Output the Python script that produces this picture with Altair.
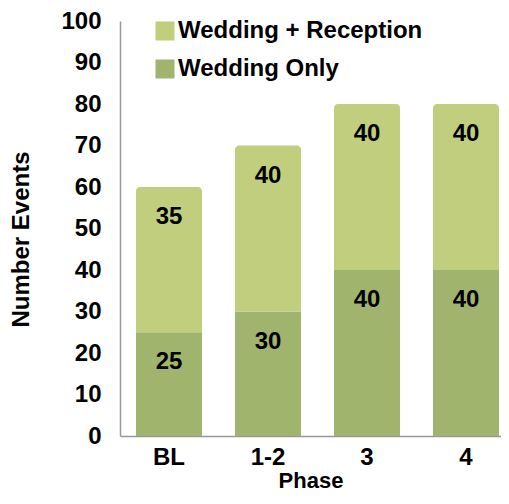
import altair as alt
import pandas as pd

phases = ["BL", "1-2", "3", "4"]
wedding_only = [25, 30, 40, 40]
wedding_reception = [35, 40, 40, 40]
series_names = ["Wedding + Reception", "Wedding Only"]
colors = ["#c1ce7e", "#a1b46d"]
y_ticks = [0, 10, 20, 30, 40, 50, 60, 70, 80, 90, 100]

rows = []
for p, wo, wr in zip(phases, wedding_only, wedding_reception):
    rows.append({"phase": p, "series": "Wedding Only", "value": wo, "order": 0})
    rows.append({"phase": p, "series": "Wedding + Reception", "value": wr, "order": 1})
df = pd.DataFrame(rows)

FONT = "Liberation Sans"
FS = 24

base = alt.Chart(df).transform_stack(
    stack="value", groupby=["phase"], as_=["y0", "y1"], sort=[alt.SortField("order")]
)

x = alt.X(
    "phase:N",
    sort=phases,
    scale=alt.Scale(paddingInner=0.3333, paddingOuter=0.0909, align=0.889),
    axis=alt.Axis(
        title="Phase", labelAngle=0, ticks=False, grid=False,
        domainColor="#999999", domainWidth=1.5,
        labelFont=FONT, labelFontSize=FS, labelFontWeight="bold", labelColor="black",
        labelPadding=9,
        titleFont=FONT, titleFontSize=22, titleFontWeight="bold", titleColor="black",
        titleY=44, titleBaseline="middle",
    ),
)

y = alt.Y(
    "y1:Q",
    scale=alt.Scale(domain=[0, 100]),
    axis=alt.Axis(
        title="Number Events", values=y_ticks, ticks=False, grid=False,
        domainColor="#999999", domainWidth=1.5,
        labelFont=FONT, labelFontSize=FS, labelFontWeight="bold", labelColor="black",
        labelPadding=19,
        titleFont=FONT, titleFontSize=FS, titleFontWeight="bold", titleColor="black",
        titleX=-99, titleY=218, titleAngle=270, titleBaseline="middle", titleAlign="center",
    ),
)

color = alt.Color(
    "series:N",
    scale=alt.Scale(domain=series_names, range=colors),
    legend=alt.Legend(
        title=None, orient="none", legendX=33, legendY=-2,
        symbolType="square", symbolSize=361, symbolStrokeWidth=0, symbolOpacity=1,
        labelFont=FONT, labelFontSize=FS, labelFontWeight="bold", labelColor="black",
        labelLimit=400, rowPadding=14, labelOffset=1, padding=0,
    ),
)

bottom = base.transform_filter(alt.datum.series == "Wedding Only").mark_bar().encode(
    x=x, y=y, y2="y0:Q", color=color
)
top = base.transform_filter(alt.datum.series == "Wedding + Reception").mark_bar(
    cornerRadiusTopLeft=4, cornerRadiusTopRight=4
).encode(x=x, y=y, y2="y0:Q", color=color)

labels = base.mark_text(
    font=FONT, fontSize=FS, fontWeight="bold", color="black", dy=30, baseline="middle"
).encode(
    x=x,
    y=y,
    text="value:Q",
)

chart = alt.layer(bottom, top, labels).properties(
    width=381, height=415,
    autosize=alt.AutoSizeParams(type="none"),
    padding={"left": 112, "top": 13, "right": 0, "bottom": 56},
).configure_view(stroke=None)

chart.save("out.html", embed_options={"renderer": "svg", "actions": False})
